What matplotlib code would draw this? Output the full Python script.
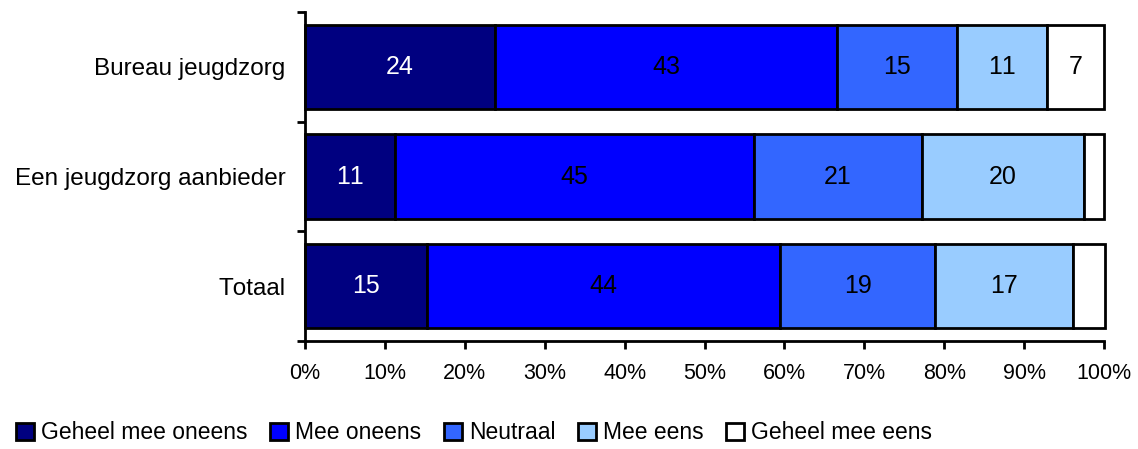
import matplotlib
matplotlib.use("Agg")
import matplotlib.pyplot as plt
import numpy as np
from matplotlib.patches import Patch

categories = ["Totaal", "Een jeugdzorg aanbieder", "Bureau jeugdzorg"]
series_names = ["Geheel mee oneens", "Mee oneens", "Neutraal", "Mee eens", "Geheel mee eens"]
geheel_mee_oneens = [15.3, 11.3, 23.8]
mee_oneens = [44.2, 44.9, 42.8]
neutraal = [19.3, 21.0, 15.0]
mee_eens = [17.3, 20.3, 11.3]
geheel_mee_eens = [4.0, 2.5, 7.1]
x_ticks = [0, 10, 20, 30, 40, 50, 60, 70, 80, 90, 100]
x_tick_labels = [f"{v}%" for v in x_ticks]

series = [geheel_mee_oneens, mee_oneens, neutraal, mee_eens, geheel_mee_eens]
colors = ["#000080", "#0000FF", "#3366FF", "#99CCFF", "#FFFFFF"]
text_colors = ["white", "black", "black", "black", "black"]

plt.rcParams['font.family'] = ['Liberation Sans', 'DejaVu Sans']
plt.rcParams['text.kerning_factor'] = 6
fig = plt.figure(figsize=(11.38, 4.49), dpi=100)
ax = fig.add_axes([305/1138, 1-341/449, 799/1138, 329/449])

y = np.arange(len(categories))
left = np.zeros(len(categories))
for vals, col, tc in zip(series, colors, text_colors):
    vals = np.array(vals)
    bars = ax.barh(y, vals, left=left, height=0.77, color=col, edgecolor="black", linewidth=2, zorder=2)
    for b in bars:
        b.set_clip_on(False)
    for yi, l, v in zip(y, left, vals):
        if v >= 5:
            ax.text(l + v/2, yi, f"{v:.0f}", ha="center", va="center", color=tc, fontsize=18, zorder=3)
    left += vals

ax.set_xlim(0, 100)
ax.set_ylim(-0.5, 2.5)
ax.set_xticks(x_ticks)
ax.set_xticklabels(x_tick_labels, fontsize=15.5)
ax.set_yticks(y)
ax.set_yticklabels(categories, fontsize=17.5)
ax.tick_params(axis='y', which='major', length=0, pad=14)
ax.set_yticks([-0.5, 0.5, 1.5, 2.5], minor=True)
ax.tick_params(axis='y', which='minor', length=6, width=2, direction='out')
ax.tick_params(axis='x', which='major', length=6, width=2, direction='out', pad=10)
for s in ["top", "right"]:
    ax.spines[s].set_visible(False)
for s in ["left", "bottom"]:
    ax.spines[s].set_linewidth(2)

handles = [Patch(facecolor=c, edgecolor="black", linewidth=2) for c in colors]
fig.legend(handles, series_names, loc="lower left", bbox_to_anchor=(0.0, -0.025), ncol=5,
           frameon=False, fontsize=16.5, handlelength=0.78, handleheight=0.78,
           handletextpad=0.3, columnspacing=1.0, borderaxespad=0.3)

fig.savefig("out.png", dpi=100)
